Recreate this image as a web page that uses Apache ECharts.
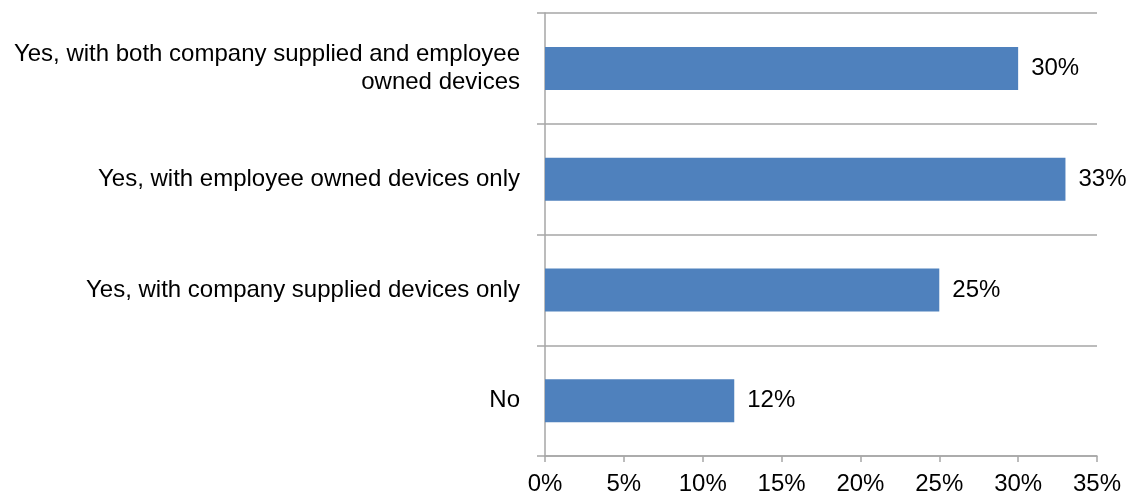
<!DOCTYPE html>
<html>
<head>
<meta charset="utf-8">
<script src="https://cdn.jsdelivr.net/npm/echarts@6/dist/echarts.min.js"></script>
<style>
  html, body { margin: 0; padding: 0; background: #fff; }
  #chart { width: 1133px; height: 496px; }
</style>
</head>
<body>
<div id="chart"></div>
<script>
// Survey answers, listed top to bottom
const categories = [
  'Yes, with both company supplied and employee\nowned devices',
  'Yes, with employee owned devices only',
  'Yes, with company supplied devices only',
  'No'
];
// Share of respondents, in percent
const shares = [30, 33, 25, 12];
// Value axis ticks (percent)
const axisMin = 0;
const axisMax = 35;
const axisStep = 5;

const FONT = '"Liberation Sans", Arial, sans-serif';
const LINE = '#a6a6a6';

const chart = echarts.init(document.getElementById('chart'), null, { renderer: 'canvas' });
chart.setOption({
  animation: false,
  backgroundColor: '#ffffff',
  grid: { left: 545, right: 36, top: 13, bottom: 39, containLabel: false },
  xAxis: {
    type: 'value',
    min: axisMin,
    max: axisMax,
    interval: axisStep,
    axisLine: { show: true, lineStyle: { color: LINE, width: 1.5 } },
    axisTick: { show: true, length: 6, lineStyle: { color: LINE, width: 1.5 } },
    splitLine: { show: false },
    axisLabel: {
      margin: 16,
      color: '#000',
      fontFamily: FONT,
      fontSize: 24,
      formatter: v => v + '%'
    }
  },
  yAxis: {
    type: 'category',
    data: categories,
    inverse: true,
    axisLine: { show: true, lineStyle: { color: LINE, width: 1.5 } },
    axisTick: { show: true, length: 8, alignWithLabel: false, lineStyle: { color: LINE, width: 1.5 } },
    splitLine: { show: true, lineStyle: { color: LINE, width: 1.5 } },
    axisLabel: {
      margin: 25,
      color: '#000',
      fontFamily: FONT,
      fontSize: 24,
      lineHeight: 28,
      align: 'right',
      padding: [4, 0, 0, 0]
    }
  },
  series: [{
    type: 'bar',
    data: shares,
    barWidth: 43,
    itemStyle: { color: '#4f81bd' },
    label: {
      show: true,
      position: 'right',
      distance: 13,
      color: '#000',
      fontFamily: FONT,
      fontSize: 24,
      formatter: p => p.value + '%'
    }
  }]
});
</script>
</body>
</html>
